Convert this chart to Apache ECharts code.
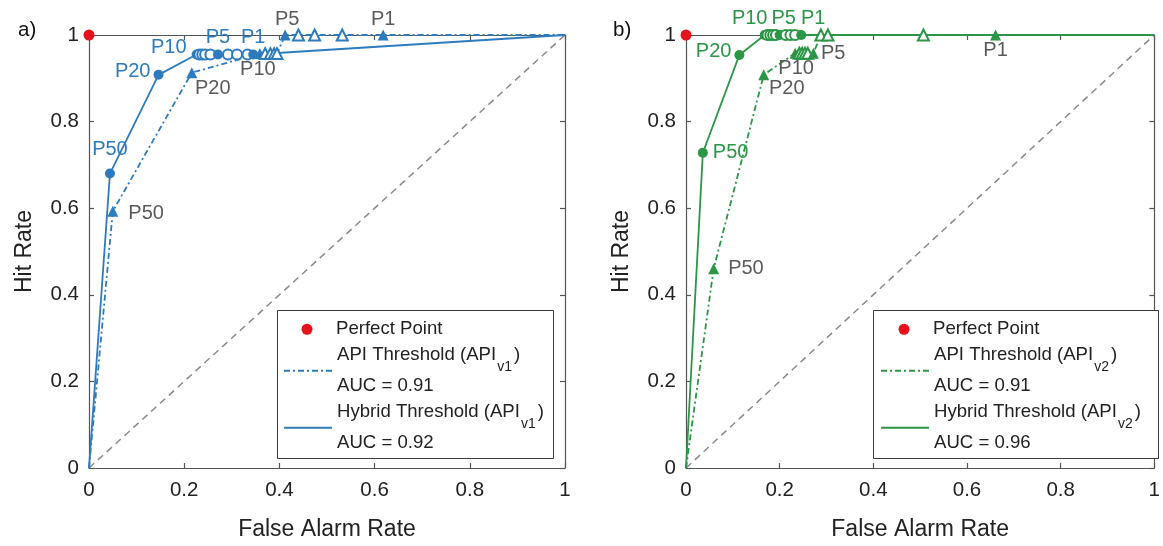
<!DOCTYPE html>
<html><head><meta charset="utf-8">
<script src="https://cdn.jsdelivr.net/npm/echarts@6/dist/echarts.min.js"></script>
<style>html,body{margin:0;padding:0;background:#fff}#c{width:1163px;height:546px}</style>
</head><body><div id="c"></div>
<script>
// ---------- data ----------
const thresholds = ['', 'P50', 'P20', 'P10', 'P9', 'P8', 'P7', 'P6', 'P5', 'P4', 'P3', 'P2', 'P1', ''];
const markedThresholds = ['P50', 'P20', 'P10', 'P5', 'P1'];
const axisTicks = [0, 0.2, 0.4, 0.6, 0.8, 1];
const perfectPoint = [0, 1];
const chanceFar = [0, 1];
const chanceHit = [0, 1];
const panelTags = ['a)', 'b)'];
const versions = ['v1', 'v2'];
const aucApi = [0.91, 0.91];
const aucHybrid = [0.92, 0.96];

// panel a (API v1)
const aApiFar = [0, 0.050, 0.216, 0.359, 0.370, 0.381, 0.389, 0.395, 0.412, 0.440, 0.474, 0.532, 0.618, 1];
const aApiHit = [0, 0.593, 0.913, 0.957, 0.957, 0.957, 0.957, 0.957, 1, 1, 1, 1, 1, 1];
const aHybFar = [0, 0.044, 0.146, 0.226, 0.232, 0.238, 0.244, 0.255, 0.271, 0.292, 0.311, 0.333, 0.345, 1];
const aHybHit = [0, 0.680, 0.908, 0.955, 0.955, 0.955, 0.955, 0.955, 0.955, 0.955, 0.955, 0.955, 0.955, 1];
// panel b (API v2)
const bApiFar = [0, 0.059, 0.166, 0.233, 0.242, 0.248, 0.254, 0.260, 0.272, 0.288, 0.303, 0.507, 0.661, 1];
const bApiHit = [0, 0.460, 0.908, 0.958, 0.958, 0.958, 0.958, 0.958, 0.958, 1, 1, 1, 1, 1];
const bHybFar = [0, 0.036, 0.114, 0.168, 0.174, 0.180, 0.186, 0.192, 0.200, 0.213, 0.223, 0.233, 0.246, 1];
const bHybHit = [0, 0.728, 0.954, 1, 1, 1, 1, 1, 1, 1, 1, 1, 1, 1];

// ---------- styles ----------
const FONT = 'Liberation Sans, Arial, Helvetica, sans-serif';
const BLUE = '#2D7BBE';
const GREEN = '#2A9646';
const GRAYTXT = '#5a5a5a';
const RED = '#E5121B';
const AXIS = '#555555';
const TXT = '#222222';
const DASHDOT = [6, 3, 2, 3];

const labelPlace = {
  aHyb: {P50: {position: 'top', distance: 9}, P20: {position: 'left', distance: 3, offset: [0, -3]}, P10: {position: 'left', distance: 5, offset: [0, -7]}, P5: {position: 'top', distance: 2}, P1: {position: 'top', distance: 2}},
  aApi: {P50: {position: 'right', distance: 10, offset: [0, 2]}, P20: {position: 'bottom', distance: 0, offset: [21, 0]}, P10: {position: 'bottom', distance: 0, offset: [-2, 0]}, P5: {position: 'top', distance: 0, offset: [2, 0]}, P1: {position: 'top', distance: 0}},
  bHyb: {P50: {position: 'right', distance: 5}, P20: {position: 'left', distance: 3, offset: [0, -3]}, P10: {position: 'top', distance: 2, offset: [-15, 0]}, P5: {position: 'top', distance: 2, offset: [4, 0]}, P1: {position: 'top', distance: 2, offset: [12, 0]}},
  bApi: {P50: {position: 'right', distance: 9}, P20: {position: 'bottom', distance: -2, offset: [23, 0]}, P10: {position: 'bottom', distance: 0, offset: [1, 0]}, P5: {position: 'right', distance: 2}, P1: {position: 'bottom', distance: 0}}
};

function buildData(xs, ys, place, color) {
  return xs.map((x, i) => {
    const t = thresholds[i];
    const item = {value: [x, ys[i]]};
    if (markedThresholds.includes(t)) {
      item.label = Object.assign({show: true, formatter: t, color: color, fontSize: 20, fontFamily: FONT}, place[t]);
    }
    return item;
  });
}
function symbolFn(shape) {
  const cap = shape.charAt(0).toUpperCase() + shape.slice(1);
  return (val, p) => {
    const t = thresholds[p.dataIndex];
    if (!t) return 'none';
    return markedThresholds.includes(t) ? shape : 'empty' + cap;
  };
}

const names = [0, 1].map(k => ({
  api: 'API Threshold (API' + versions[k] + ')',
  hyb: 'Hybrid Threshold (API' + versions[k] + ')'
}));

function curveSeries(name, xs, ys, place, color, labelColor, shape, dash, ax) {
  return {
    type: 'line', name: name, xAxisIndex: ax, yAxisIndex: ax,
    data: buildData(xs, ys, place, labelColor),
    symbol: symbolFn(shape), symbolSize: shape === 'triangle' ? 11 : 10,
    showSymbol: true, clip: false, z: 3, silent: true,
    color: color,
    itemStyle: {color: color, borderWidth: 0},
    lineStyle: {color: color, width: 1.8, type: dash},
    emphasis: {disabled: true}
  };
}

const series = [];
[0, 1].forEach(k => {
  const ax = k * 2;
  series.push({
    type: 'line', name: 'chance' + k, xAxisIndex: ax, yAxisIndex: ax,
    data: chanceFar.map((x, i) => [x, chanceHit[i]]), symbol: 'none', silent: true,
    lineStyle: {color: '#8a8a8a', width: 1.5, type: [7, 5]}, z: 1
  });
  series.push({
    type: 'scatter', name: 'Perfect Point', xAxisIndex: ax, yAxisIndex: ax,
    data: [perfectPoint], symbol: 'circle', symbolSize: 11, clip: false, z: 5, silent: true,
    itemStyle: {color: RED, opacity: 1}
  });
});
series.push(curveSeries(names[0].api, aApiFar, aApiHit, labelPlace.aApi, BLUE, GRAYTXT, 'triangle', DASHDOT, 0));
series.push(curveSeries(names[0].hyb, aHybFar, aHybHit, labelPlace.aHyb, BLUE, BLUE, 'circle', 'solid', 0));
series.push(curveSeries(names[1].api, bApiFar, bApiHit, labelPlace.bApi, GREEN, GRAYTXT, 'triangle', DASHDOT, 2));
series.push(curveSeries(names[1].hyb, bHybFar, bHybHit, labelPlace.bHyb, GREEN, GREEN, 'circle', 'solid', 2));

function axisPair(grid, isX) {
  const base = {
    type: 'value', gridIndex: grid, min: axisTicks[0], max: axisTicks[axisTicks.length - 1],
    interval: axisTicks[1] - axisTicks[0],
    splitLine: {show: false},
    axisLine: {show: true, onZero: false, lineStyle: {color: AXIS, width: 1.2}},
    axisTick: {show: true, inside: true, length: 5, lineStyle: {color: AXIS, width: 1.2}}
  };
  const main = Object.assign({}, base, {
    position: isX ? 'bottom' : 'left',
    axisLabel: {show: true, color: TXT, fontSize: 20.5, fontFamily: FONT, margin: isX ? 12 : 10, showMinLabel: true, showMaxLabel: true},
    name: isX ? 'False Alarm Rate' : 'Hit Rate', nameLocation: 'middle', nameGap: isX ? 50 : 53,
    nameTextStyle: {color: TXT, fontSize: 23, fontFamily: FONT}
  });
  const mirror = Object.assign({}, base, {position: isX ? 'top' : 'right', axisLabel: {show: false}});
  return [main, mirror];
}

const legendRich = {
  n: {fontFamily: FONT, fontSize: 18.6, lineHeight: 31, color: TXT},
  s: {fontFamily: FONT, fontSize: 14, lineHeight: 4, height: 8, verticalAlign: 'bottom', padding: [0, 2, 0, 1], color: TXT}
};
function legendFormatter(k) {
  const v = versions[k];
  return function (n) {
    if (n === names[k].api) return '{n|API Threshold (API}{s|' + v + '}{n|)}\n{n|AUC = ' + aucApi[k].toFixed(2) + '}';
    if (n === names[k].hyb) return '{n|Hybrid Threshold (API}{s|' + v + '}{n|)}\n{n|AUC = ' + aucHybrid[k].toFixed(2) + '}';
    return '{n|' + n + '}';
  };
}
function legendsFor(k, iconLeft) {
  const common = {
    orient: 'vertical', itemWidth: 48, itemHeight: 11, padding: 0,
    selectedMode: false, z: 10, formatter: legendFormatter(k),
    textStyle: {fontFamily: FONT, fontSize: 18.6, color: TXT, rich: legendRich}
  };
  return [
    // circle icon is centred in the 48px slot, so the bounding box starts 18.5px in
    Object.assign({}, common, {left: iconLeft + 18.5, top: 319.75, itemGap: 0,
      data: [{name: 'Perfect Point', itemStyle: {color: RED, opacity: 1}}]}),
    Object.assign({}, common, {left: iconLeft, top: 345.75, itemGap: 7, data: [
      {name: names[k].api, itemStyle: {opacity: 0}},
      {name: names[k].hyb, itemStyle: {opacity: 0}}
    ]})
  ];
}
// legend frame boxes (x0, y0, x1, y1 in px)
const legendFrames = [[277, 310, 553, 458], [873, 310, 1158, 458]];

const xa = axisPair(0, true), xb = axisPair(1, true);
const ya = axisPair(0, false), yb = axisPair(1, false);

const option = {
  animation: false,
  textStyle: {fontFamily: FONT},
  grid: [
    {left: 89, top: 35, width: 476, height: 437, containLabel: false},
    {left: 686, top: 35, width: 475, height: 437, containLabel: false}
  ],
  xAxis: [xa[0], xa[1], xb[0], xb[1]],
  yAxis: [ya[0], ya[1], yb[0], yb[1]],
  legend: legendsFor(0, 283).concat(legendsFor(1, 880)),
  graphic: [
    {type: 'text', left: 18, top: 20, style: {text: panelTags[0], fontSize: 20.5, fontFamily: FONT, fill: '#111'}},
    {type: 'text', left: 613, top: 20, style: {text: panelTags[1], fontSize: 20.5, fontFamily: FONT, fill: '#111'}}
  ].concat(legendFrames.map(f => ({
    type: 'rect', z: 8, silent: true,
    shape: {x: f[0] + 0.5, y: f[1] + 0.5, width: f[2] - f[0], height: f[3] - f[1]},
    style: {fill: '#fff', stroke: '#3a3a3a', lineWidth: 1}
  }))),
  series: series
};
option.xAxis[1].gridIndex = 0; option.xAxis[2].gridIndex = 1; option.xAxis[3].gridIndex = 1;
option.yAxis[1].gridIndex = 0; option.yAxis[2].gridIndex = 1; option.yAxis[3].gridIndex = 1;

const chart = echarts.init(document.getElementById('c'), null, {renderer: 'canvas'});
chart.setOption(option);
</script>
</body></html>
